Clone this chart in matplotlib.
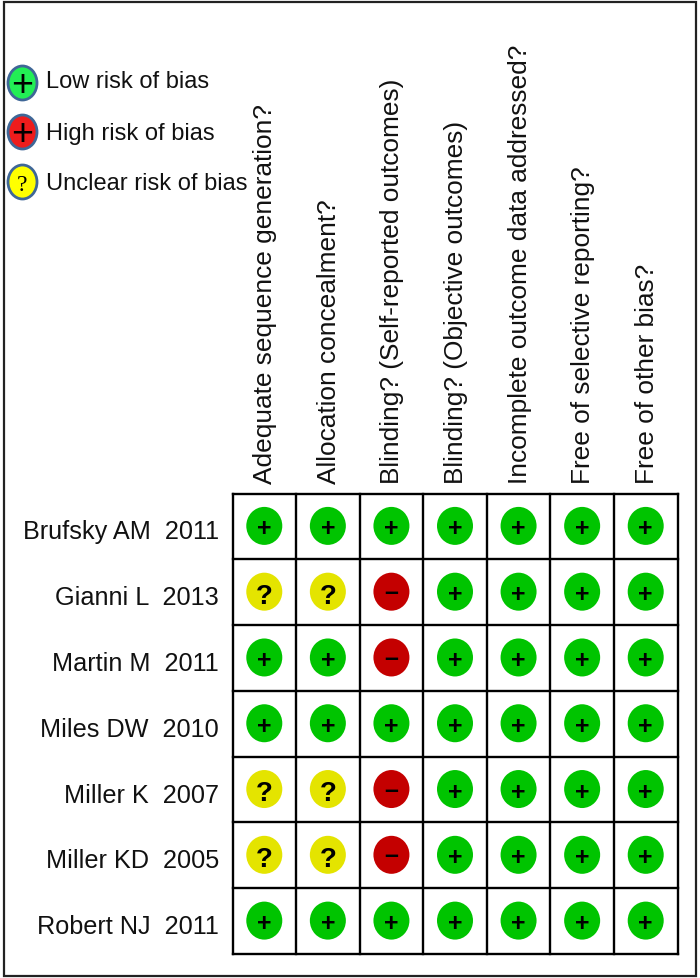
import matplotlib
matplotlib.use('Agg')
import matplotlib.pyplot as plt
from matplotlib.patches import Ellipse, Rectangle

plt.rcParams['font.family'] = ['Liberation Sans', 'DejaVu Sans']

studies = ['Brufsky AM', 'Gianni L', 'Martin M', 'Miles DW', 'Miller K', 'Miller KD', 'Robert NJ']
years = ['2011', '2013', '2011', '2010', '2007', '2005', '2011']
questions = ['Adequate sequence generation?', 'Allocation concealment?',
             'Blinding? (Self-reported outcomes)',
             'Blinding? (Objective outcomes)', 'Incomplete outcome data addressed?',
             'Free of selective reporting?', 'Free of other bias?']
# one string per study, one letter per question: L low, H high, U unclear
ratings = ['LLLLLLL', 'UUHLLLL', 'LLHLLLL', 'LLLLLLL', 'UUHLLLL', 'UUHLLLL', 'LLLLLLL']
legend_labels = ['Low risk of bias', 'High risk of bias', 'Unclear risk of bias']

colors = {'L': '#00c400', 'H': '#c40000', 'U': '#e4e400'}
signs = {'L': '+', 'H': '\u2013', 'U': '?'}
sign_shift = {'L': -0.5, 'H': -2.5, 'U': 0.5}

fig = plt.figure(figsize=(7, 9.79), dpi=100)
ax = fig.add_axes([0, 0, 1, 1])
ax.set_xlim(0, 700)
ax.set_ylim(979, 0)
ax.axis('off')

# outer frame
ax.add_patch(Rectangle((3.5, 2.5), 692.5, 974.5, fc='none', ec='#222222', lw=1.6))

# grid position in pixels
x0, x1 = 232.5, 677.5
y0, y1 = 494.5, 955
cw = (x1 - x0) / len(questions)
ch = (y1 - y0) / len(studies)

for i in range(len(studies) + 1):
    ax.plot([x0, x1], [y0 + i * ch, y0 + i * ch], color='black', lw=1.7, solid_capstyle='projecting')
for j in range(len(questions) + 1):
    ax.plot([x0 + j * cw, x0 + j * cw], [y0, y1], color='black', lw=1.7, solid_capstyle='projecting')

for i, row in enumerate(ratings):
    yc = y0 + (i + 0.5) * ch
    ax.text(219, yc + 5, studies[i] + '  ' + years[i], ha='right', va='center', fontsize=18.2, color='#111111')
    for j, r in enumerate(row):
        xc = x0 + (j + 0.5) * cw
        ax.add_patch(Ellipse((xc, yc - 0.5), 36, 38, color=colors[r], lw=0))
        ax.text(xc, yc + sign_shift[r], signs[r], ha='center', va='center_baseline',
                fontsize=20 if r == 'U' else 18, fontweight='bold', color='black')

for j, q in enumerate(questions):
    xc = x0 + (j + 0.5) * cw
    ax.text(xc + 1, 484, q, rotation=90, ha='center', va='bottom', fontsize=18.9, color='#111111')

# legend top left
leg_y = [84, 133, 183]
leg_text_y = [82, 134, 184]
leg_fill = ['#22ee55', '#ee1c1c', '#ffff00']
leg_sign = ['+', '+', '?']
for k in range(3):
    ax.add_patch(Ellipse((22.5, leg_y[k]), 29, 34, fc=leg_fill[k], ec='#3f6797', lw=2))
    if k == 2:
        ax.text(22.5, leg_y[k], leg_sign[k], ha='center', va='center_baseline', fontsize=17,
                color='black', family='Liberation Serif')
    else:
        ax.text(22.5, leg_y[k] - 2, leg_sign[k], ha='center', va='center_baseline', fontsize=27,
                color='black', fontweight='light')
    ax.text(46, leg_text_y[k], legend_labels[k], ha='left', va='center', fontsize=17, color='#111111')

fig.savefig('out.png', dpi=100)
